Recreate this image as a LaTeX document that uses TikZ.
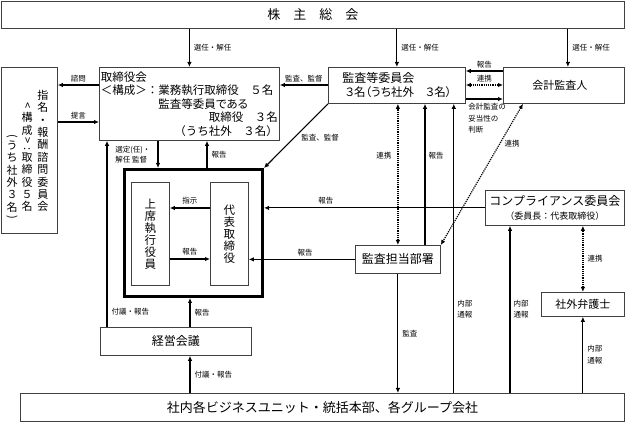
\documentclass[tikz,border=0pt]{standalone}
\usepackage{fontspec}
\setmainfont{Noto Sans CJK JP}
\newfontfamily\jpp{Noto Sans CJK JP}[RawFeature=+palt]
\usetikzlibrary{arrows.meta}
\newcommand\tbr[1]{\rotatebox[origin=c]{-90}{#1}}
\tikzset{
  box/.style={draw=black!75,line width=0.8pt,anchor=north west,inner sep=0pt},
  arr/.style={-{Latex[length=5pt,width=4.5pt]},line width=1.1pt},
  darr/.style={{Latex[length=5pt,width=4.5pt]}-{Latex[length=5pt,width=4.5pt]},line width=1.2pt,densely dotted},
  lbl/.style={font=\fontsize{7.5}{11.5}\selectfont,inner sep=0pt},
  tate/.style={align=center,inner sep=0pt,font={\fontsize{11.5}{12}\selectfont\lineskiplimit=-5pt}},
  tatenom/.style={align=center,inner sep=0pt,font={\fontsize{11}{12.4}\selectfont\lineskiplimit=-8pt}}
}
\begin{document}
\begin{tikzpicture}[x=1pt,y=-1pt]
\useasboundingbox (0,0) rectangle (625,422);
\node[box,minimum width=623pt,minimum height=27pt,font=\fontsize{13}{15}\selectfont] (soukai) at (1,1) {株　主　総　会};
\node[box,text width=177pt,minimum height=73pt,inner xsep=1.5pt,align=left,font=\fontsize{11.5}{13.5}\selectfont] (tori) at (99,67)
  {取締役会\\＜構成＞：業務執行取締役　５名\\\hspace*{5em}{\jpp 監査等委員である}\\\hfill 取締役　３名\hspace*{5pt}\\\hfill（うち社外　３名）};
\node[box,minimum width=56pt,minimum height=166pt] (nom) at (1,67) {};
\node[tatenom,anchor=south] (nomA) at (43,212) {指\\名\\・\\報\\酬\\諮\\問\\委\\員\\会};
\node[tatenom,anchor=south] (nomB) at (27,212) {\tbr{<}\\構\\成\\[-3pt]\tbr{>}\\[-4pt]\tbr{:}\\[-3pt]取\\締\\役\\５\\名};
\node[tatenom,anchor=south] (nomC) at (12,221) {\tbr{(}\\[-3pt]う\\ち\\社\\外\\３\\名\\[-3pt]\tbr{)}};
\node[box,minimum width=137pt,minimum height=36pt,align=left,font=\fontsize{12}{14}\selectfont] (kansa) at (328,67)
  {監査等委員会\\\hspace*{3pt}{\jpp\fontsize{11.5}{14}\selectfont ３名（うち社外　３名）}};
\node[box,minimum width=121pt,minimum height=36pt,font=\fontsize{11}{13}\selectfont] (kaikei) at (503,67) {会計監査人\hspace*{8pt}};
\node[box,draw=black,line width=3pt,minimum width=138pt,minimum height=127pt] (exec) at (123,168) {};
\node[box,tate,minimum width=38pt,minimum height=103pt] (joseki) at (131,182) {上\\席\\執\\行\\役\\員};
\node[box,tate,minimum width=38pt,minimum height=103pt] (daihyo) at (210,182) {代\\表\\取\\締\\役};
\node[box,minimum width=139pt,minimum height=35pt,align=center,font=\fontsize{12}{14}\selectfont] (compl) at (485,190)
  {コンプライアンス委員会\\{\fontsize{9}{11}\selectfont（委員長：代表取締役）}};
\node[box,minimum width=85pt,minimum height=28pt,font=\fontsize{12}{14}\selectfont] (kansabu) at (355,245) {監査担当部署};
\node[box,minimum width=83pt,minimum height=24pt,font=\fontsize{11}{13}\selectfont] (bengo) at (541,292) {社外弁護士};
\node[box,minimum width=151pt,minimum height=28pt,font=\fontsize{12}{14}\selectfont] (keiei) at (100,327) {経営会議};
\node[box,minimum width=604pt,minimum height=28pt,font=\fontsize{13}{15}\selectfont] (shanai) at (20,393) {社内各ビジネスユニット・統括本部、各グループ会社};

\draw[arr] (soukai.south -| tori.north) -- (tori.north) node[lbl,midway,right=4pt] (l-sen1) {選任・解任};
\draw[arr] (soukai.south -| kansa.north) -- (kansa.north) node[lbl,midway,right=4pt] (l-sen2) {選任・解任};
\draw[arr] ([xshift=4pt]kaikei.north |- soukai.south) -- ([xshift=4pt]kaikei.north) node[lbl,midway,right=4pt] (l-sen3) {選任・解任};
\draw[arr] ([yshift=-18pt]tori.north west) -- ([yshift=-18pt]tori.north west -| nom.east) node[lbl,midway,above=2.5pt] (l-shimon) {諮問};
\draw[arr] ([yshift=-55pt]tori.north west -| nom.east) -- ([yshift=-55pt]tori.north west) node[lbl,midway,above=2.5pt] (l-teigen) {提言};
\draw[arr] ([yshift=-18pt]kansa.north west) -- ([yshift=-18pt]kansa.north west -| tori.east) node[lbl,midway,above=2.5pt] (l-kansa1) {監査、監督};
\draw[arr] ([yshift=-4pt]kaikei.north west) -- ([yshift=-4pt]kaikei.north west -| kansa.east) node[lbl,midway,above=2.5pt] (l-hok1) {報告};
\draw[darr] ([yshift=-18pt]kansa.north east) -- ([yshift=-18pt]kansa.north east -| kaikei.west) node[lbl,midway,above=2.5pt] (l-ren1) {連携};
\draw[arr] ([yshift=-32pt]kansa.north east) -- ([yshift=-32pt]kansa.north east -| kaikei.west) node[lbl,pos=0,anchor=north west,align=left,xshift=2pt,yshift=-4pt] (l-datou) {会計監査の\\妥当性の\\判断};
\draw[arr] (kansa.south west) -- (exec.north east) node[lbl,pos=0.52,right=6pt] (l-kansa2) {監査、監督};
\draw[arr] ([xshift=59pt]tori.south west) -- ([xshift=59pt]tori.south west |- exec.north) node[lbl,midway,left=7pt,align=left,font=\fontsize{7.5}{10}\selectfont] (l-sentei) {選定(任)・\\解任 監督};
\draw[arr] ([xshift=108pt]tori.south west |- exec.north) -- ([xshift=108pt]tori.south west) node[lbl,midway,right=4pt] (l-hok2) {報告};
\draw[arr] ([xshift=7pt]keiei.north west) -- ([xshift=7pt]keiei.north west |- tori.south) node[lbl,pos=0.08,right=4pt] (l-fugi1) {付議・報告};
\draw[arr] ([xshift=90pt]keiei.north west) -- ([xshift=90pt]keiei.north west |- exec.south) node[lbl,midway,right=4pt] (l-hok3) {報告};
\draw[arr] ([xshift=90pt]keiei.south west |- shanai.north) -- ([xshift=90pt]keiei.south west) node[lbl,midway,right=4pt] (l-fugi2) {付議・報告};
\draw[arr] ([yshift=-26pt]daihyo.north west) -- ([yshift=-26pt]daihyo.north west -| joseki.east) node[lbl,midway,above=3pt] (l-shiji) {指示};
\draw[arr] ([yshift=-77pt]joseki.north east) -- ([yshift=-77pt]joseki.north east -| daihyo.west) node[lbl,midway,above=3pt] (l-hok4) {報告};
\draw[arr] (compl.west) -- (compl.west -| exec.east) node[lbl,pos=0.72,above=3pt] (l-hok5) {報告};
\draw[arr] (kansabu.west) -- (kansabu.west -| daihyo.east) node[lbl,pos=0.47,above=3pt] (l-hok6) {報告};
\draw[darr] (kansabu.north) -- (kansabu.north |- kansa.south) node[lbl,pos=0.63,left=6pt] (l-ren2) {連携};
\draw[arr] ([xshift=70pt]kansabu.north west) -- ([xshift=70pt]kansabu.north west |- kansa.south) node[lbl,pos=0.63,right=3pt] (l-hok7) {報告};
\draw[arr] ([xshift=-12pt]kansa.south east |- shanai.north) -- ([xshift=-12pt]kansa.south east) node[lbl,pos=0.29,right=3pt,align=left] (l-naibu1) {内部\\通報};
\draw[darr] ([xshift=20pt]kaikei.south west) -- (kansabu.north east) node[lbl,pos=0.28,right=4pt] (l-ren3) {連携};
\draw[arr] (kansabu.south) -- (kansabu.south |- shanai.north) node[lbl,midway,right=4pt] (l-kansa3) {監査};
\draw[arr] ([xshift=25pt]compl.south west |- shanai.north) -- ([xshift=25pt]compl.south west) node[lbl,midway,right=3pt,align=left] (l-naibu2) {内部\\通報};
\draw[darr] (bengo.north) -- (bengo.north |- compl.south) node[lbl,midway,right=4pt] (l-ren4) {連携};
\draw[arr] (bengo.south |- shanai.north) -- (bengo.south) node[lbl,midway,right=4pt,align=left] (l-naibu3) {内部\\通報};
\end{tikzpicture}
\end{document}
